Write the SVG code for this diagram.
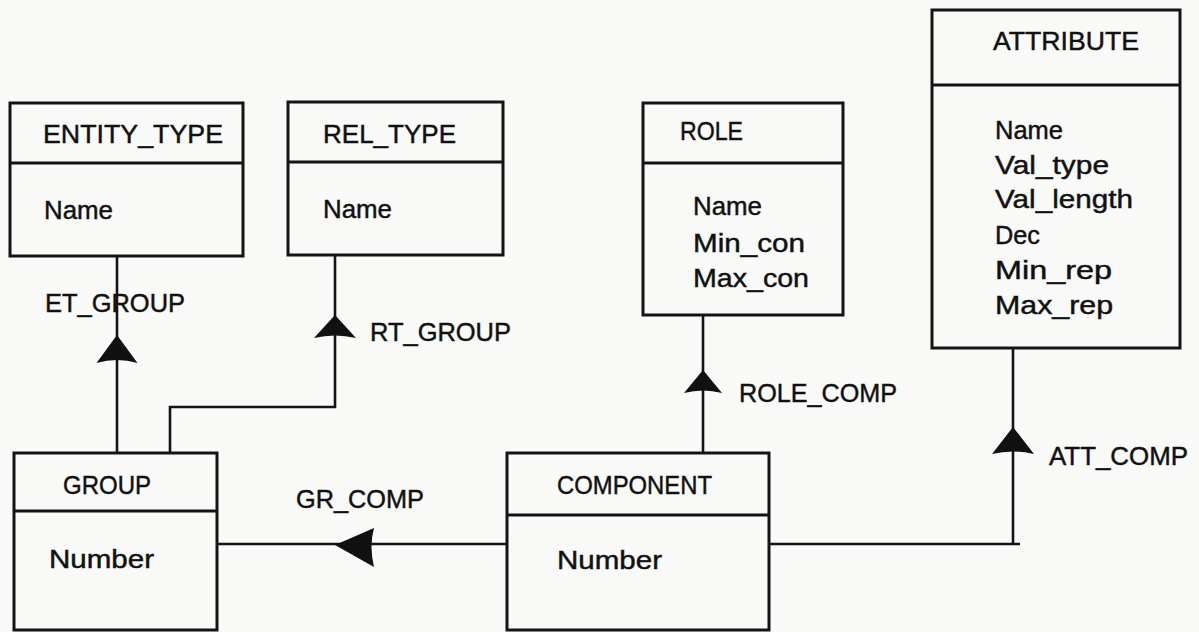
<svg xmlns="http://www.w3.org/2000/svg" width="1199" height="632" viewBox="0 0 1199 632">
  <style>
    .box { fill: none; stroke: #141414; stroke-width: 3; }
    .conn { fill: none; stroke: #141414; stroke-width: 2.6; }
    .head { fill: #111; stroke: none; }
    text { font-family: "Liberation Sans", Arial, sans-serif; font-size: 26px; fill: #111; stroke: #111; stroke-width: 0.45; }
  </style>
  <rect x="0" y="0" width="1199" height="632" fill="#f9f9f7"/>

  <!-- connectors with their arrowheads and role labels -->
  <g id="connectors">
    <!-- ET_GROUP: GROUP -> ENTITY_TYPE -->
    <path class="conn" d="M117,256 V453"/>
    <path class="head" d="M117,335 L96.5,363 Q117,357 137.5,363 Z"/>
    <text x="45" y="312" textLength="140" lengthAdjust="spacingAndGlyphs">ET_GROUP</text>

    <!-- RT_GROUP: GROUP -> REL_TYPE -->
    <path class="conn" d="M335,255 V407 H170 V453"/>
    <path class="head" d="M335,315 L314,338 Q335,333 356,338 Z"/>
    <text x="370" y="341" textLength="141" lengthAdjust="spacingAndGlyphs">RT_GROUP</text>

    <!-- GR_COMP: COMPONENT -> GROUP -->
    <path class="conn" d="M217,544 H507"/>
    <path class="head" d="M335,545 L374,528 Q369,546 374,567 Z"/>
    <text x="296" y="508" textLength="128" lengthAdjust="spacingAndGlyphs">GR_COMP</text>

    <!-- ROLE_COMP: COMPONENT -> ROLE -->
    <path class="conn" d="M703,315 V453"/>
    <path class="head" d="M703,370 L684,393 Q703,388 722,393 Z"/>
    <text x="739" y="402" textLength="158" lengthAdjust="spacingAndGlyphs">ROLE_COMP</text>

    <!-- ATT_COMP: COMPONENT -> ATTRIBUTE -->
    <path class="conn" d="M769,544 H1020 M1013,348 V545"/>
    <path class="head" d="M1013,427 L992,454 Q1013,449 1034,454 Z"/>
    <text x="1049" y="465" textLength="139" lengthAdjust="spacingAndGlyphs">ATT_COMP</text>
  </g>

  <g id="entity_type">
    <rect class="box" x="10" y="103" width="233" height="153"/>
    <line class="box" x1="10" y1="163" x2="243" y2="163"/>
    <text x="43" y="143" textLength="180" lengthAdjust="spacingAndGlyphs">ENTITY_TYPE</text>
    <text x="44" y="219" textLength="69" lengthAdjust="spacingAndGlyphs">Name</text>
  </g>

  <g id="rel_type">
    <rect class="box" x="288" y="102" width="215" height="153"/>
    <line class="box" x1="288" y1="162" x2="503" y2="162"/>
    <text x="323" y="143" textLength="133" lengthAdjust="spacingAndGlyphs">REL_TYPE</text>
    <text x="323" y="218" textLength="69" lengthAdjust="spacingAndGlyphs">Name</text>
  </g>

  <g id="role">
    <rect class="box" x="643" y="103" width="200" height="212"/>
    <line class="box" x1="643" y1="163" x2="843" y2="163"/>
    <text x="680" y="140" textLength="63" lengthAdjust="spacingAndGlyphs">ROLE</text>
    <text x="693" y="215" textLength="69" lengthAdjust="spacingAndGlyphs">Name</text>
    <text x="693" y="252" textLength="112" lengthAdjust="spacingAndGlyphs">Min_con</text>
    <text x="693" y="287" textLength="116" lengthAdjust="spacingAndGlyphs">Max_con</text>
  </g>

  <g id="attribute">
    <rect class="box" x="932" y="10" width="248" height="338"/>
    <line class="box" x1="932" y1="85" x2="1180" y2="85"/>
    <text x="993" y="50" textLength="146" lengthAdjust="spacingAndGlyphs">ATTRIBUTE</text>
    <text x="995" y="139" textLength="68" lengthAdjust="spacingAndGlyphs">Name</text>
    <text x="995" y="174" textLength="114" lengthAdjust="spacingAndGlyphs">Val_type</text>
    <text x="995" y="208" textLength="138" lengthAdjust="spacingAndGlyphs">Val_length</text>
    <text x="995" y="244" textLength="45" lengthAdjust="spacingAndGlyphs">Dec</text>
    <text x="995" y="279" textLength="117" lengthAdjust="spacingAndGlyphs">Min_rep</text>
    <text x="995" y="314" textLength="118" lengthAdjust="spacingAndGlyphs">Max_rep</text>
  </g>

  <g id="group">
    <rect class="box" x="14" y="453" width="203" height="177"/>
    <line class="box" x1="14" y1="511" x2="217" y2="511"/>
    <text x="63" y="494" textLength="88" lengthAdjust="spacingAndGlyphs">GROUP</text>
    <text x="49" y="568" textLength="105" lengthAdjust="spacingAndGlyphs">Number</text>
  </g>

  <g id="component">
    <rect class="box" x="507" y="453" width="262" height="177"/>
    <line class="box" x1="507" y1="515" x2="769" y2="515"/>
    <text x="557" y="494" textLength="155" lengthAdjust="spacingAndGlyphs">COMPONENT</text>
    <text x="557" y="569" textLength="105" lengthAdjust="spacingAndGlyphs">Number</text>
  </g>
</svg>
